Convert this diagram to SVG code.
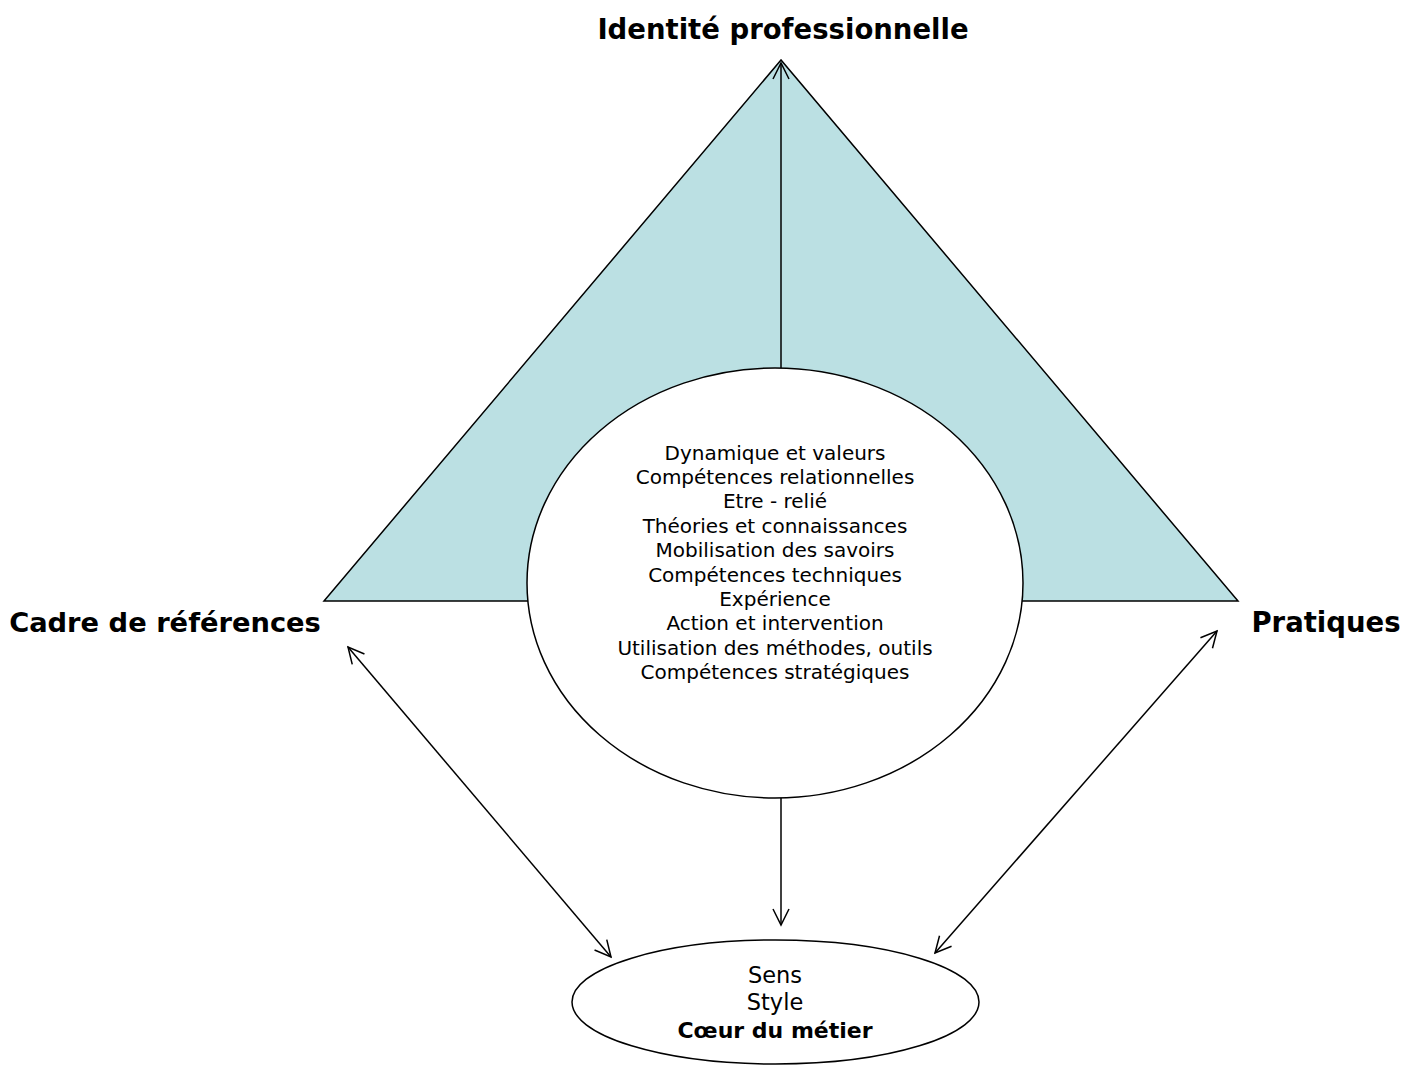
<svg xmlns="http://www.w3.org/2000/svg" width="1404" height="1066" viewBox="0 0 1404 1066">
<style>
.t{font-family:"DejaVu Sans",Verdana,sans-serif;fill:#000;text-anchor:middle}
.b{font-weight:bold}
.ln{stroke:#000;stroke-width:1.5;fill:none}
</style>
<defs>
<marker id="ah" viewBox="0 0 20 20" refX="18" refY="10" markerWidth="20" markerHeight="20" markerUnits="userSpaceOnUse" orient="auto-start-reverse">
<path d="M2,2 L18,10 L2,18" fill="none" stroke="#000" stroke-width="1.5"/>
</marker>
</defs>
<rect width="1404" height="1066" fill="#fff"/>
<g id="triangle">
<polygon points="781,60 324,601 1238,601" fill="#BBE0E3" stroke="#000" stroke-width="1.5"/>
</g>
<g id="center">
<ellipse cx="775" cy="583" rx="248" ry="215" fill="#fff" stroke="#000" stroke-width="1.5"/>
<g class="t" font-size="20">
<text x="775" y="460">Dynamique et valeurs</text>
<text x="775" y="484">Compétences relationnelles</text>
<text x="775" y="508">Etre - relié</text>
<text x="775" y="533">Théories et connaissances</text>
<text x="775" y="557">Mobilisation des savoirs</text>
<text x="775" y="582">Compétences techniques</text>
<text x="775" y="606">Expérience</text>
<text x="775" y="630">Action et intervention</text>
<text x="775" y="655">Utilisation des méthodes, outils</text>
<text x="775" y="679">Compétences stratégiques</text>
</g>
</g>
<g id="coeur">
<ellipse cx="775.5" cy="1002" rx="203.5" ry="62" fill="#fff" stroke="#000" stroke-width="1.5"/>
<text class="t" x="775" y="983" font-size="22.5">Sens</text>
<text class="t" x="775" y="1010" font-size="22.5">Style</text>
<text class="t b" x="775" y="1038" font-size="22">Cœur du métier</text>
</g>
<g id="identite"><text class="t b" x="783" y="39" font-size="27.5">Identité professionnelle</text></g>
<g id="cadre"><text class="t b" x="165" y="632" font-size="27.3">Cadre de références</text></g>
<g id="pratiques"><text class="t b" x="1326" y="632" font-size="27.5">Pratiques</text></g>
<g id="connectors">
<line class="ln" x1="781" y1="368" x2="781" y2="63" marker-end="url(#ah)"/>
<line class="ln" x1="781" y1="798" x2="781" y2="925" marker-end="url(#ah)"/>
<line class="ln" x1="348" y1="647" x2="611" y2="957" marker-start="url(#ah)" marker-end="url(#ah)"/>
<line class="ln" x1="1217" y1="631" x2="935" y2="953" marker-start="url(#ah)" marker-end="url(#ah)"/>
</g>
</svg>
